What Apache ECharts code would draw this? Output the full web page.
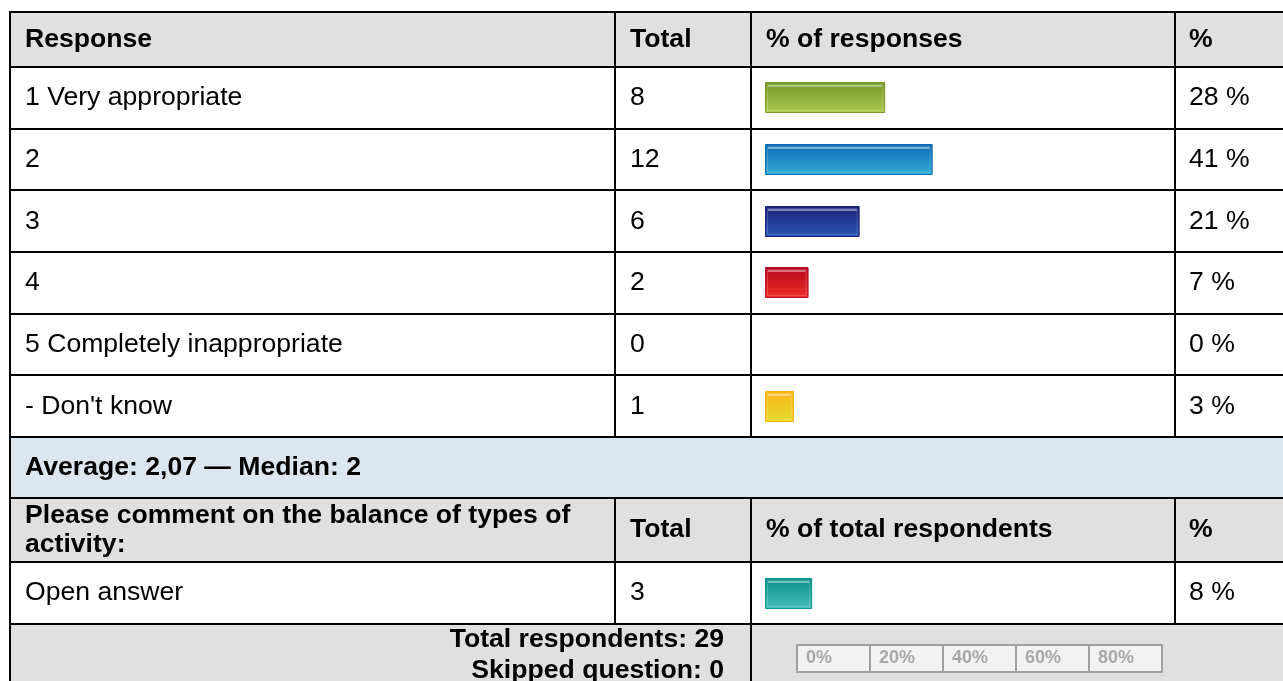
<!DOCTYPE html>
<html>
<head>
<meta charset="utf-8">
<title>Response table</title>
<script src="https://cdn.jsdelivr.net/npm/echarts@6/dist/echarts.min.js"></script>
<style>
  html, body { margin: 0; padding: 0; background: #fff; }
  #chart { width: 1283px; height: 681px; }
</style>
</head>
<body>
<div id="chart"></div>
<script>
// data
const responses = ['1 Very appropriate', '2', '3', '4', '5 Completely inappropriate', "- Don't know"]
const totals = [8, 12, 6, 2, 0, 1]
const percents = [28, 41, 21, 7, 0, 3]
const openLabels = ['Open answer']
const openTotals = [3]
const openPercents = [8]
const scaleTicks = ['0%', '20%', '40%', '60%', '80%']
const average = '2,07'
const median = 2
const respondents = 29
const skipped = 0

// glossy bar colours (edge, top, bottom)
const palette = [
  { edge: '#7a9a28', top: '#709426', bottom: '#b2cb52' },
  { edge: '#0d6ab5', top: '#0f69b4', bottom: '#30acd6' },
  { edge: '#1f2480', top: '#1e2078', bottom: '#2a58b8' },
  { edge: '#c0102a', top: '#b2061c', bottom: '#f0302a' },
  { edge: '#c0c0c0', top: '#dddddd', bottom: '#eeeeee' },
  { edge: '#f8b014', top: '#f9b416', bottom: '#e4dc2e' }
]
const teal = { edge: '#0a9a90', top: '#0a9088', bottom: '#4cbebe' }

const FONT = 'Arial, Liberation Sans, Helvetica, sans-serif'
const FS = 26.6
const X0 = 10, C1 = 615, C2 = 751, C3 = 1175, XR = 1283
const headTop = 12, rowsTop = 67, rowsBottom = 437
const avgBottom = 498, head2Bottom = 562, openBottom = 624
const rowH = (rowsBottom - rowsTop) / responses.length

function txt(text, x, y, bold, align) {
  return {
    type: 'text', z: 20,
    style: {
      text: text, x: x, y: y,
      fontFamily: FONT,
      fontSize: FS,
      fontWeight: bold ? 'bold' : 'normal',
      fill: '#000',
      textAlign: align || 'left',
      textVerticalAlign: 'middle'
    }
  }
}
function rect(x, y, w, h, fill) {
  return { type: 'rect', z: -5, shape: { x: x, y: y, width: w, height: h }, style: { fill: fill } }
}
function hline(y, x1, x2) {
  return { type: 'line', z: 30, shape: { x1: x1, y1: y, x2: x2, y2: y }, style: { stroke: '#000', lineWidth: 2 } }
}
function vline(x, y1, y2) {
  return { type: 'line', z: 30, shape: { x1: x, y1: y1, x2: x, y2: y2 }, style: { stroke: '#000', lineWidth: 2 } }
}

const elements = []
// backgrounds
elements.push(rect(X0, headTop, XR - X0, rowsTop - headTop, '#e0e0e0'))
elements.push(rect(X0, rowsBottom, XR - X0, avgBottom - rowsBottom, '#dce6f1'))
elements.push(rect(X0, avgBottom, XR - X0, head2Bottom - avgBottom, '#e0e0e0'))
elements.push(rect(X0, openBottom, XR - X0, 681 - openBottom, '#e0e0e0'))

// horizontal lines
elements.push(hline(headTop, X0 - 1, XR))
elements.push(hline(rowsTop, X0, XR))
responses.forEach(function (r, i) {
  elements.push(hline(Math.round(rowsTop + (i + 1) * rowH), X0, XR))
})
elements.push(hline(avgBottom, X0, XR))
elements.push(hline(head2Bottom, X0, XR))
elements.push(hline(openBottom, X0, XR))
// vertical lines
elements.push(vline(X0, headTop - 1, 681))
;[C1, C2, C3].forEach(function (x) {
  elements.push(vline(x, headTop, rowsBottom))
  elements.push(vline(x, avgBottom, openBottom))
})
elements.push(vline(C2, openBottom, 681))

// header texts
elements.push(txt('Response', 25, 40, true))
elements.push(txt('Total', 630, 40, true))
elements.push(txt('% of responses', 766, 40, true))
elements.push(txt('%', 1189, 40, true))
// body texts
responses.forEach(function (r, i) {
  const cy = rowsTop + (i + 0.5) * rowH
  elements.push(txt(r, 25, cy))
  elements.push(txt(String(totals[i]), 630, cy))
  elements.push(txt(percents[i] + ' %', 1189, cy))
})
elements.push(txt('Average: ' + average + ' \u2014 Median: ' + median, 25, (rowsBottom + avgBottom) / 2, true))
// second block
elements.push(txt('Please comment on the balance of types of', 25, 516, true))
elements.push(txt('activity:', 25, 545, true))
elements.push(txt('Total', 630, 530, true))
elements.push(txt('% of total respondents', 766, 530, true))
elements.push(txt('%', 1189, 530, true))
openLabels.forEach(function (r, i) {
  const cy = (head2Bottom + openBottom) / 2
  elements.push(txt(r, 25, cy))
  elements.push(txt(String(openTotals[i]), 630, cy))
  elements.push(txt(openPercents[i] + ' %', 1189, cy))
})
elements.push(txt('Total respondents: ' + respondents, 724, 640, true, 'right'))
elements.push(txt('Skipped question: ' + skipped, 724, 671, true, 'right'))

function glossyBar(colors) {
  return function (params, api) {
    const val = api.value(0)
    const cat = api.value(1)
    if (!val) return
    const p0 = api.coord([0, cat])
    const p1 = api.coord([val, cat])
    const h = 31
    const x = p0[0]
    const w = p1[0] - p0[0] + 18
    const y = Math.round(p0[1] - h / 2)
    const c = Array.isArray(colors) ? colors[params.dataIndex] : colors
    return {
      type: 'group',
      children: [
        {
          type: 'rect',
          shape: { x: x + 0.5, y: y + 0.5, width: w - 1, height: h - 1 },
          style: {
            fill: new echarts.graphic.LinearGradient(0, 0, 0, 1, [
              { offset: 0, color: c.top },
              { offset: 1, color: c.bottom }
            ]),
            stroke: c.edge,
            lineWidth: 1
          }
        },
        {
          type: 'rect',
          shape: { x: x + 2.5, y: y + 2.5, width: w - 5, height: h - 5 },
          style: { fill: 'none', stroke: 'rgba(255,255,255,0.16)', lineWidth: 1 }
        },
        {
          type: 'rect',
          shape: { x: x + 3, y: y + 3, width: w - 6, height: 2 },
          style: { fill: 'rgba(255,255,255,0.42)' }
        }
      ]
    }
  }
}

var myChart = echarts.init(document.getElementById('chart'))
let option = {
  animation: false,
  graphic: { elements: elements },
  grid: [
    { left: 765, top: rowsTop, width: 365, height: rowsBottom - rowsTop },
    { left: 765, top: head2Bottom, width: 365, height: openBottom - head2Bottom },
    {
      left: 797, top: 645, width: 365, height: 27,
      show: true, backgroundColor: '#f2f2f2', borderColor: '#a0a0a0', borderWidth: 2
    }
  ],
  xAxis: [
    { gridIndex: 0, type: 'value', min: 0, max: 100, show: false },
    { gridIndex: 1, type: 'value', min: 0, max: 100, show: false },
    {
      gridIndex: 2, type: 'value', min: 0, max: 100, interval: 20,
      axisLine: { show: false },
      axisTick: { show: false },
      splitLine: { show: true, lineStyle: { color: '#a0a0a0', width: 2 } },
      axisLabel: {
        inside: true,
        margin: 5,
        align: 'left',
        padding: [0, 0, 0, 9],
        showMaxLabel: false,
        color: '#a8a8a8',
        fontWeight: 'bold',
        fontSize: 18,
        fontFamily: FONT,
        formatter: function (v) {
          return scaleTicks[Math.round(v / 20)] || ''
        }
      }
    }
  ],
  yAxis: [
    { gridIndex: 0, type: 'category', data: responses, inverse: true, show: false },
    { gridIndex: 1, type: 'category', data: openLabels, inverse: true, show: false },
    { gridIndex: 2, type: 'value', show: false }
  ],
  series: [
    {
      name: '% of responses',
      type: 'custom',
      xAxisIndex: 0,
      yAxisIndex: 0,
      renderItem: glossyBar(palette),
      encode: { x: 0, y: 1 },
      data: percents.map(function (p, i) { return [p, i] })
    },
    {
      name: '% of total respondents',
      type: 'custom',
      xAxisIndex: 1,
      yAxisIndex: 1,
      renderItem: glossyBar(teal),
      encode: { x: 0, y: 1 },
      data: openPercents.map(function (p, i) { return [p, i] })
    }
  ]
}
myChart.setOption(option, true)
</script>
</body>
</html>
